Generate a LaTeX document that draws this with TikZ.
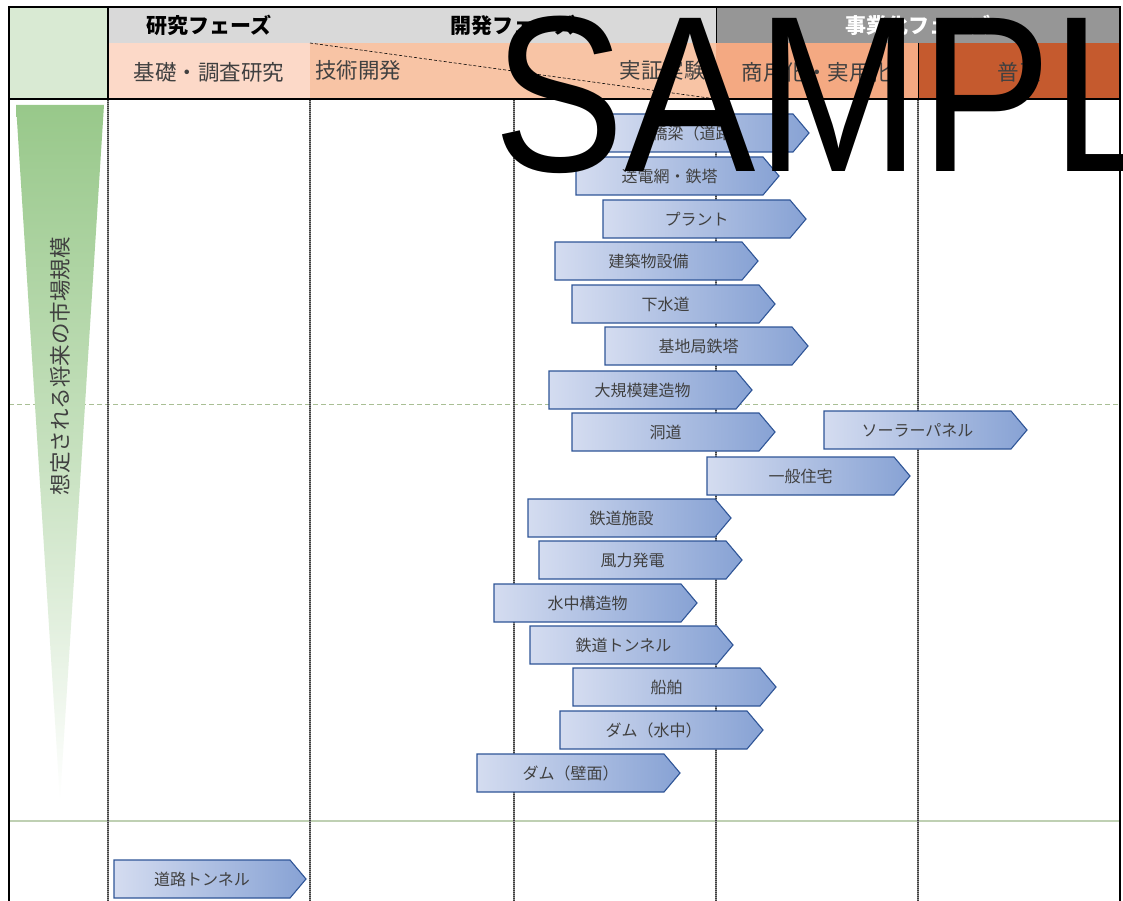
\documentclass[tikz,border=0pt]{standalone}
\usepackage{fontspec}
\setmainfont{Noto Sans CJK JP}
\newfontfamily\wmfont{Liberation Sans}
\definecolor{hdrgray}{HTML}{D9D9D9}
\definecolor{hdrdark}{HTML}{969696}
\definecolor{cgreen}{HTML}{D9EAD3}
\definecolor{cpeach1}{HTML}{FCD9C8}
\definecolor{cpeach2}{HTML}{F8C4A5}
\definecolor{cpeach3}{HTML}{F4A982}
\definecolor{cburnt}{HTML}{C55A2E}
\definecolor{txtgray}{HTML}{404040}
\definecolor{arL}{HTML}{D4DCF0}
\definecolor{arR}{HTML}{87A2D4}
\definecolor{arB}{HTML}{2F5597}
\definecolor{trigreen}{HTML}{98C88A}
\definecolor{dashgreen}{HTML}{A9BF95}
\definecolor{linegreen}{HTML}{BFD0B3}
\tikzset{
  arrowfill/.style={left color=arL, right color=arR, draw=arB, line width=1.1pt, line join=miter},
  arrowtext/.style={inner sep=0pt, text=txtgray, font=\fontsize{16}{18}\selectfont},
  hdrbold/.style={inner sep=0pt, font=\bfseries\fontsize{21}{23}\selectfont},
  hdrtext/.style={inner sep=0pt, text=txtgray, font=\fontsize{21.5}{23}\selectfont},
  vlineback/.style={draw=gray!85, line width=1.8pt},
  vline/.style={draw=black!75, line width=1.8pt, dash pattern=on 1pt off 1pt},
  frame/.style={draw=black, line width=1.8pt}
}
\newcommand\arw[5][203]{%
  \path[arrowfill] (#3,#4-19) -- (#3+#1-16,#4-19) -- (#3+#1,#4) -- (#3+#1-16,#4+19) -- (#3,#4+19) -- cycle;
  \node[arrowtext] (#2) at (#3+#1/2-8,#4) {#5};
}
\begin{document}
\begin{tikzpicture}[x=1pt,y=-1pt]
\useasboundingbox[fill=white] (0,0) rectangle (1123,901);
% header fills
\fill[cgreen] (9,7) rectangle (108,99);
\fill[hdrgray] (108,7) rectangle (716,43);
\fill[hdrdark] (716,7) rectangle (1120,43);
\fill[cpeach1] (108,43) rectangle (310,99);
\fill[cpeach2] (310,43) rectangle (716,99);
\fill[cpeach3] (716,43) rectangle (918,99);
\fill[cburnt] (918,43) rectangle (1120,99);
\draw[black, line width=0.6pt, densely dashed] (310,43) -- (716,99);
% header texts
\node[hdrbold] (p1) at (209,25) {研究フェーズ};
\node[hdrbold] (p2) at (513,25) {開発フェーズ};
\node[hdrbold, text=white] (p3) at (918,25) {事業化フェーズ};
\node[hdrtext] (s1) at (209,72) {基礎・調査研究};
\node[hdrtext, anchor=west] (s2) at (315,70) {技術開発};
\node[hdrtext, anchor=east] (s3) at (706,70) {実証実験};
\node[hdrtext] (s4) at (817,72) {商用化・実用化};
\node[hdrtext] (s5) at (1019,72) {普及};
% header lines
\draw[black, line width=1pt] (716,7) -- (716,43);
\draw[black, line width=1pt] (918,43) -- (918,99);
\draw[frame] (108,7) -- (108,99);
% body grid
\draw[dashgreen, line width=1pt, dash pattern=on 5pt off 3pt] (9,404) -- (1120,404);
\draw[linegreen, line width=1.5pt] (9,821) -- (1120,821);
\foreach \xx in {108,310,514,716,918} {
  \draw[vlineback] (\xx,100) -- (\xx,901);
  \draw[vline] (\xx,100) -- (\xx,901);
}
% market-size wedge
\path[top color=trigreen, bottom color=white, middle color=trigreen!55, draw=none] (16,105) -- (104,105) -- (60,800) -- cycle;
\node[rotate=90, inner sep=0pt, text=txtgray, font=\fontsize{21.5}{23}\selectfont] (ms) at (60,366) {想定される将来の市場規模};
% frame
\draw[frame] (9,901) -- (9,7) -- (1120,7) -- (1120,901);
\draw[black, line width=2.4pt] (9,99) -- (1120,99);
% arrows
\arw{a1}{606}{133}{橋梁（道路）}
\arw{a2}{576}{176}{送電網・鉄塔}
\arw{a3}{603}{219}{プラント}
\arw{a4}{555}{261}{建築物設備}
\arw{a5}{572}{304}{下水道}
\arw{a6}{605}{346}{基地局鉄塔}
\arw{a7}{549}{390}{大規模建造物}
\arw{a8}{572}{432}{洞道}
\arw{a9}{824}{430}{ソーラーパネル}
\arw{a10}{707}{476}{一般住宅}
\arw{a11}{528}{518}{鉄道施設}
\arw{a12}{539}{560}{風力発電}
\arw{a13}{494}{603}{水中構造物}
\arw{a14}{530}{645}{鉄道トンネル}
\arw{a15}{573}{687}{船舶}
\arw{a16}{560}{730}{ダム（水中）}
\arw{a17}{477}{773}{ダム（壁面）}
\arw[192]{a18}{114}{879}{道路トンネル}
% watermark
\node[anchor=base west, inner sep=0pt, yscale=1.13, font=\wmfont\fontsize{197}{197}\selectfont] (wm) at (493,172) {SAMPLE};
\end{tikzpicture}
\end{document}
